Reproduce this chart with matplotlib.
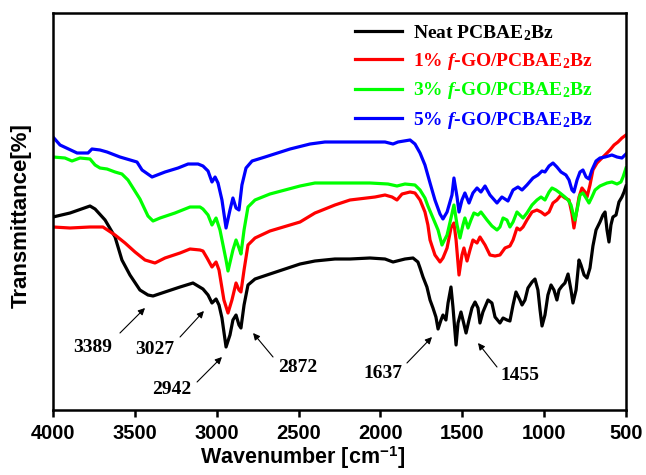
"""FTIR spectra of neat PCBAE2Bz and its f-GO nanocomposites."""

import matplotlib.pyplot as plt

plt.rcParams["font.family"] = "Liberation Sans"
plt.rcParams["font.weight"] = "bold"
plt.rcParams["mathtext.fontset"] = "custom"
plt.rcParams["mathtext.rm"] = "Liberation Serif:bold"
plt.rcParams["mathtext.bf"] = "Liberation Serif:bold"
plt.rcParams["mathtext.it"] = "Liberation Serif:italic:bold"
plt.rcParams["mathtext.sf"] = "Liberation Sans:bold"

# wavenumber [cm-1] / transmittance [a.u.]
neat_wn = [4000, 3896, 3774, 3743, 3682, 3621, 3579, 3530, 3469, 3420, 3389, 3316, 3224, 3145,
           3084, 3053, 3029, 3004, 2986, 2968, 2943, 2919, 2901, 2882, 2864, 2852, 2833, 2809,
           2766, 2675, 2491, 2400, 2278, 2186, 2064, 1972, 1923, 1850, 1801, 1771, 1758, 1740,
           1716, 1697, 1679, 1661, 1648, 1630, 1618, 1600, 1587, 1569, 1557, 1538, 1526, 1508,
           1496, 1477, 1459, 1441, 1422, 1404, 1392, 1374, 1343, 1319, 1300, 1270, 1251, 1227,
           1209, 1190, 1172, 1148, 1135, 1117, 1099, 1074, 1056, 1038, 1025, 1013, 995, 977,
           958, 940, 922, 909, 891, 873, 854, 836, 824, 805, 787, 775, 756, 738, 720, 702, 683,
           659, 641, 628, 616, 604, 592, 580, 561, 543, 525, 512, 500]
neat_t = [48.25, 49.25, 51.0, 50.25, 47.5, 43.25, 37.5, 33.75, 30.0, 28.75, 28.5, 29.5, 30.75,
          31.75, 30.25, 28.75, 26.75, 27.75, 26.25, 23.0, 15.75, 18.75, 22.5, 23.75, 21.25, 20.5,
          26.25, 31.25, 32.75, 34.0, 36.5, 37.25, 37.75, 37.75, 38.0, 37.75, 37.0, 37.75, 38.0,
          37.0, 35.5, 33.25, 30.75, 27.5, 25.5, 23.25, 20.25, 22.5, 23.75, 22.5, 26.75, 30.75,
          25.75, 16.25, 21.75, 24.5, 22.5, 19.25, 22.5, 25.5, 27.0, 25.5, 21.75, 24.5, 27.5,
          26.75, 23.25, 21.75, 23.0, 22.5, 22.25, 26.25, 29.5, 27.5, 26.25, 27.5, 30.5, 32.0,
          32.75, 30.0, 25.0, 21.0, 23.75, 28.75, 31.25, 30.0, 27.5, 30.0, 31.0, 31.75, 34.0,
          30.0, 26.75, 30.0, 37.5, 36.25, 33.75, 33.0, 35.5, 41.0, 45.0, 47.0, 48.75, 49.5, 45.0,
          42.0, 46.25, 48.25, 48.75, 52.0, 53.25, 54.5, 56.0]

go1_wn = [4000, 3896, 3774, 3695, 3621, 3560, 3499, 3438, 3377, 3316, 3224, 3163, 3102, 3084,
          3059, 3029, 3004, 2986, 2956, 2931, 2907, 2882, 2864, 2852, 2833, 2809, 2766, 2675,
          2491, 2400, 2369, 2278, 2186, 2033, 1972, 1929, 1899, 1868, 1819, 1789, 1758, 1728,
          1710, 1697, 1667, 1636, 1618, 1593, 1569, 1551, 1538, 1520, 1502, 1490, 1471, 1453,
          1435, 1410, 1392, 1361, 1331, 1300, 1270, 1239, 1209, 1190, 1166, 1148, 1129, 1105,
          1074, 1044, 1019, 995, 970, 946, 922, 897, 873, 848, 830, 818, 805, 787, 769, 750,
          738, 720, 702, 677, 659, 628, 598, 573, 549, 525, 500]
go1_t = [45.75, 45.5, 45.75, 45.75, 43.75, 41.75, 39.5, 37.5, 36.75, 38.0, 39.25, 40.25, 40.0,
         39.75, 38.0, 35.75, 37.0, 35.0, 27.5, 24.25, 27.5, 31.75, 30.0, 29.5, 35.0, 41.25, 43.0,
         44.75, 47.0, 49.25, 49.75, 51.25, 52.5, 53.25, 53.75, 53.25, 52.5, 54.0, 54.5, 54.25,
         52.5, 49.5, 46.25, 42.5, 38.75, 37.0, 38.0, 40.5, 45.5, 46.75, 42.5, 33.75, 38.75, 40.5,
         37.25, 40.0, 42.5, 41.75, 43.25, 41.25, 38.75, 38.5, 38.75, 40.5, 41.0, 42.5, 45.5,
         45.0, 45.75, 47.5, 49.5, 50.0, 49.5, 48.75, 49.5, 51.75, 52.5, 53.75, 53.0, 52.5, 49.0,
         45.5, 48.75, 53.25, 55.5, 54.5, 53.25, 56.25, 60.0, 61.75, 62.5, 63.75, 65.0, 66.25,
         67.0, 68.0, 68.75]

go3_wn = [4000, 3927, 3884, 3835, 3774, 3743, 3713, 3670, 3621, 3579, 3542, 3469, 3420, 3389,
          3346, 3255, 3163, 3102, 3084, 3053, 3029, 3004, 2980, 2943, 2931, 2901, 2882, 2864,
          2852, 2833, 2809, 2766, 2675, 2491, 2400, 2278, 2064, 1954, 1899, 1850, 1789, 1758,
          1728, 1710, 1679, 1648, 1624, 1593, 1569, 1551, 1532, 1514, 1496, 1484, 1465, 1447,
          1429, 1404, 1386, 1349, 1319, 1288, 1270, 1251, 1227, 1209, 1190, 1166, 1148, 1129,
          1105, 1074, 1044, 1019, 995, 970, 952, 928, 903, 873, 854, 836, 824, 812, 793, 781,
          763, 744, 726, 708, 689, 659, 616, 586, 555, 531, 518, 500]
go3_t = [63.25, 63.0, 62.25, 63.0, 62.75, 61.25, 60.5, 60.25, 59.5, 59.0, 57.5, 52.75, 48.5,
         47.25, 48.0, 49.25, 50.75, 50.75, 50.25, 48.75, 46.25, 48.0, 45.0, 37.5, 34.75, 40.0,
         42.5, 40.5, 39.0, 45.0, 50.75, 52.5, 54.0, 56.0, 56.75, 56.75, 56.75, 56.5, 56.0, 56.5,
         56.25, 55.0, 53.0, 51.0, 48.0, 45.0, 41.25, 43.75, 48.0, 51.25, 46.25, 43.0, 46.25,
         48.0, 45.5, 47.5, 49.25, 48.75, 49.5, 47.5, 46.0, 45.0, 45.75, 48.0, 47.5, 45.75, 47.0,
         49.5, 48.75, 48.0, 49.25, 51.25, 52.5, 53.25, 52.5, 54.5, 55.5, 55.0, 54.25, 53.25,
         52.5, 51.25, 49.25, 47.5, 51.25, 53.75, 54.25, 53.0, 51.75, 53.25, 55.0, 56.0, 56.75,
         57.0, 56.5, 57.0, 58.25, 60.5]

go5_wn = [4000, 3957, 3853, 3786, 3762, 3713, 3670, 3591, 3487, 3456, 3395, 3316, 3236, 3175,
          3114, 3084, 3053, 3029, 3010, 2992, 2968, 2943, 2919, 2901, 2882, 2864, 2846, 2821,
          2784, 2705, 2552, 2430, 2339, 2186, 1972, 1923, 1893, 1819, 1789, 1758, 1728, 1697,
          1667, 1636, 1618, 1593, 1563, 1551, 1532, 1520, 1502, 1484, 1459, 1435, 1410, 1386,
          1361, 1331, 1288, 1258, 1221, 1190, 1160, 1135, 1105, 1068, 1038, 1013, 995, 970,
          946, 922, 897, 867, 848, 830, 818, 799, 781, 763, 744, 726, 708, 683, 659, 628, 586,
          555, 525, 500]
go5_t = [68.25, 66.25, 64.25, 64.25, 65.25, 65.0, 64.5, 63.25, 62.0, 60.0, 58.25, 59.5, 60.5,
         61.5, 61.5, 61.0, 59.75, 57.0, 58.25, 56.75, 52.5, 45.5, 50.0, 53.0, 50.5, 50.0, 56.25,
         60.5, 62.25, 63.25, 65.25, 66.5, 67.0, 67.0, 67.0, 66.5, 67.0, 67.5, 66.5, 64.25, 61.25,
         56.75, 52.5, 49.0, 47.75, 49.5, 53.75, 58.0, 53.25, 49.5, 52.5, 54.25, 51.75, 54.25,
         55.5, 54.5, 56.0, 53.75, 51.75, 53.25, 52.25, 55.0, 55.75, 55.0, 56.25, 58.0, 58.75,
         59.75, 59.5, 61.0, 61.75, 60.75, 59.5, 58.75, 57.5, 55.0, 54.5, 57.5, 59.5, 60.0, 58.25,
         57.75, 60.0, 62.25, 63.0, 63.25, 63.75, 63.25, 63.0, 64.0]

series_labels = [
    r"Neat PCBAE$_\mathbf{2}$Bz",
    r"1% $\mathit{f}$-GO/PCBAE$_\mathbf{2}$Bz",
    r"3% $\mathit{f}$-GO/PCBAE$_\mathbf{2}$Bz",
    r"5% $\mathit{f}$-GO/PCBAE$_\mathbf{2}$Bz",
]
series_colors = ["#000000", "#ff0000", "#00ff00", "#0000ff"]

peak_labels = ["3389", "3027", "2942", "2872", "1637", "1455"]

# (text position, arrow tail, arrow tip) for each peak label
peak_layout = [
    ((3756, 15.75), (3591, 19.25), (3438, 25.5)),
    ((3377, 15.0), (3224, 18.25), (3078, 24.75)),
    ((3273, 5.0), (3120, 7.0), (2968, 13.25)),
    ((2504, 10.75), (2656, 13.25), (2778, 19.25)),
    ((1984, 9.25), (1838, 11.75), (1685, 18.25)),
    ((1148, 8.75), (1288, 10.75), (1404, 16.75)),
]

fig = plt.figure(figsize=(6.46, 4.75), dpi=100)
ax = fig.add_axes([53 / 646, 65 / 475, 573 / 646, 397 / 475])

spectra = [(neat_wn, neat_t), (go1_wn, go1_t), (go3_wn, go3_t), (go5_wn, go5_t)]
for (wn, t), label, color in zip(spectra, series_labels, series_colors):
    ax.plot(wn, t, color=color, lw=2.3, label=label, solid_joinstyle="round")

for text, (pos, tail, tip) in zip(peak_labels, peak_layout):
    ax.text(pos[0], pos[1], text, ha="center", va="center", family="Liberation Serif",
            weight="bold", fontsize=14)
    ax.annotate("", xy=tip, xytext=tail,
                arrowprops=dict(arrowstyle="-|>", color="black", lw=0.8, mutation_scale=10,
                                shrinkA=0, shrinkB=0))

ax.set_xlim(4000, 500)
ax.set_ylim(0, 99.25)
ax.set_xticks(range(4000, 499, -500))
ax.set_yticks([])
ax.tick_params(axis="x", direction="out", length=5, width=1.8, labelsize=14.5, pad=5)
for spine in ax.spines.values():
    spine.set_linewidth(1.8)

ax.set_xlabel(r"Wavenumber [cm$^{\mathsf{-1}}$]", fontsize=15.5, weight="bold")
ax.xaxis.set_label_coords(0.435, -0.088)
ax.set_ylabel("Transmittance[%]", fontsize=16, weight="bold")
ax.yaxis.set_label_coords(-0.037, 0.489)

ax.legend(loc="upper left", bbox_to_anchor=(355 / 646, 452 / 475), bbox_transform=fig.transFigure,
          frameon=False, borderpad=0, borderaxespad=0, handlelength=2.4, handletextpad=0.6,
          labelspacing=0.43, labelcolor="linecolor",
          prop={"family": "Liberation Serif", "weight": "bold", "size": 14})

fig.savefig("out.png", dpi=100)
